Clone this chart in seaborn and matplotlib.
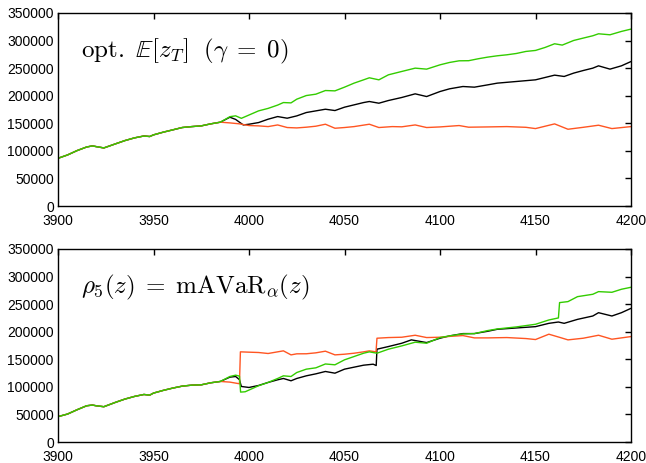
import numpy as np
import pandas as pd
import matplotlib
matplotlib.use("Agg")
import matplotlib.pyplot as plt
import seaborn as sns

sns.set_style("white")
plt.rcParams['font.family'] = ['Liberation Sans', 'DejaVu Sans']
plt.rcParams['mathtext.fontset'] = 'cm'

# ---------------- data: top panel ----------------
top_common_x = [3900, 3905, 3910, 3915, 3918, 3920, 3924, 3930, 3935, 3940, 3945, 3948,
                3950, 3955, 3960, 3965, 3970, 3975, 3980, 3985]
top_common_y = [86500, 92600, 100500, 107000, 109000, 107700, 105300, 112600, 118600, 123500,
                127000, 126000, 129000, 133800, 138000, 142300, 144000, 145300, 149000, 152000]

top_green_x = [3990, 3993, 3996, 4000, 4005, 4010, 4015, 4018, 4022, 4025, 4030, 4035, 4040,
               4045, 4050, 4055, 4060, 4063, 4068, 4073, 4080, 4087, 4093, 4100, 4105, 4110,
               4115, 4120, 4125, 4130, 4135, 4140, 4145, 4150, 4155, 4160, 4164, 4170, 4175,
               4180, 4183, 4189, 4195, 4200]
top_green_y = [162000, 163500, 159000, 165000, 172500, 177000, 183000, 187600, 187000, 193700,
               200300, 202800, 209400, 208800, 215500, 222800, 228800, 232500, 228800, 237900,
               244000, 250000, 248200, 256000, 260300, 263300, 263500, 267000, 270000, 272400,
               274200, 276600, 280300, 282100, 287500, 294200, 291800, 300200, 304500, 308700,
               312300, 310500, 316600, 320800]

top_black_x = [3990, 3993, 3997, 4000, 4005, 4010, 4015, 4020, 4025, 4030, 4035, 4040, 4045,
               4050, 4055, 4060, 4063, 4068, 4073, 4080, 4087, 4093, 4100, 4105, 4112, 4118,
               4125, 4130, 4140, 4150, 4160, 4165, 4170, 4175, 4180, 4183, 4189, 4195, 4200]
top_black_y = [161000, 157000, 147000, 148300, 151300, 157400, 162200, 159200, 163400, 169500,
               172500, 175500, 173100, 179200, 183400, 187600, 189500, 186400, 191300, 196800,
               203400, 198500, 207600, 212500, 216700, 215500, 219700, 222800, 225800, 228800,
               237300, 234900, 241000, 245700, 250000, 254200, 248200, 254200, 262000]

top_orange_x = [3990, 3995, 4000, 4005, 4010, 4015, 4020, 4025, 4030, 4035, 4040, 4045, 4050,
                4055, 4063, 4068, 4075, 4080, 4087, 4093, 4100, 4110, 4115, 4125, 4135, 4145,
                4150, 4160, 4167, 4175, 4183, 4190, 4200]
top_orange_y = [150700, 149000, 145900, 145300, 144000, 147000, 142300, 141600, 142900, 144700,
                148300, 141000, 142300, 144000, 148300, 142300, 144000, 143600, 147000, 142300,
                143400, 145900, 142900, 143400, 144000, 142700, 140400, 148900, 139200, 142700,
                146500, 140400, 144000]

# ---------------- data: bottom panel ----------------
bot_common_x = [3900, 3905, 3910, 3915, 3918, 3920, 3924, 3930, 3935, 3940, 3945, 3948,
                3950, 3955, 3960, 3965, 3970, 3975, 3980, 3985]
bot_common_y = [46000, 50700, 58500, 65700, 67000, 65700, 64000, 71800, 77800, 82600, 86200,
                85000, 88700, 93500, 97700, 101300, 103100, 103700, 107400, 109800]

bot_green_x = [3990, 3993, 3995, 3995.6, 3998, 4005, 4010, 4015, 4018, 4022, 4025, 4030, 4035,
               4040, 4045, 4050, 4055, 4060, 4063, 4067, 4073, 4080, 4087, 4093, 4100, 4105,
               4112, 4118, 4125, 4130, 4140, 4150, 4157, 4162, 4162.6, 4167, 4172, 4180, 4183,
               4190, 4195, 4200]
bot_green_y = [118800, 121200, 119500, 90500, 91100, 102000, 108000, 115200, 120000, 118800,
               126000, 132100, 134500, 141500, 140000, 149000, 155000, 161000, 163500, 161000,
               168300, 174300, 181000, 179100, 189400, 192400, 196000, 196600, 202100, 205000,
               208700, 213500, 221300, 225000, 252800, 254600, 263600, 267900, 272700, 271500,
               277000, 280600]

bot_black_x = [3990, 3993, 3995, 3996, 4000, 4005, 4010, 4015, 4018, 4022, 4025, 4030, 4035,
               4040, 4045, 4050, 4055, 4060, 4065, 4066.6, 4067, 4073, 4080, 4085, 4093, 4100,
               4105, 4112, 4118, 4125, 4130, 4140, 4150, 4157, 4162, 4165, 4172, 4180, 4183,
               4190, 4195, 4200]
bot_black_y = [117600, 118800, 113000, 100700, 98900, 102500, 108000, 112800, 115200, 111000,
               115200, 120000, 123600, 127900, 124800, 132100, 135700, 139300, 141100, 138700,
               168300, 173100, 179100, 185200, 180300, 188200, 192400, 196600, 196600, 200800,
               204400, 206800, 209200, 215200, 217600, 215200, 222400, 228500, 234500, 228500,
               234500, 242400]

bot_orange_x = [3990, 3995, 3995.5, 4000, 4005, 4010, 4015, 4018, 4022, 4025, 4030, 4035, 4040,
                4045, 4050, 4055, 4060, 4063, 4066.5, 4067, 4073, 4080, 4087, 4093, 4100, 4105,
                4112, 4118, 4125, 4135, 4145, 4150, 4157, 4163, 4167, 4175, 4183, 4190, 4200]
bot_orange_y = [108600, 105600, 163500, 162900, 162300, 160500, 163500, 165300, 158000, 159900,
                160000, 161700, 164700, 158000, 159200, 161000, 163500, 165300, 163500, 188200,
                189400, 190000, 193600, 189400, 190000, 191500, 193000, 188800, 188800, 189400,
                187600, 185800, 195500, 189400, 185200, 188200, 193600, 186400, 191200]

x_ticks = [3900, 3950, 4000, 4050, 4100, 4150, 4200]
y_ticks = [0, 50000, 100000, 150000, 200000, 250000, 300000, 350000]

series_colors = {"black": "#000000", "orange": "#ff5522", "green": "#33cc00"}
series_order = ["black", "orange", "green"]

top_label = r"$\mathrm{opt.}\ \mathbb{E}[z_T]\ \ (\gamma\;=\;0)$"
bot_label = r"$\rho_5(z)\;=\;\mathrm{mAVaR}_\alpha(z)$"


def build(common_x, common_y, tails):
    rows = []
    for name, (tx, ty) in tails.items():
        xs = list(common_x) + list(tx)
        ys = list(common_y) + list(ty)
        for i, (a, b) in enumerate(zip(xs, ys)):
            rows.append({"t": a, "v": b, "series": name, "i": i})
    return pd.DataFrame(rows)


top_df = build(top_common_x, top_common_y, {
    "black": (top_black_x, top_black_y),
    "orange": (top_orange_x, top_orange_y),
    "green": (top_green_x, top_green_y),
})
bot_df = build(bot_common_x, bot_common_y, {
    "black": (bot_black_x, bot_black_y),
    "orange": (bot_orange_x, bot_orange_y),
    "green": (bot_green_x, bot_green_y),
})

W, H = 646, 463
fig = plt.figure(figsize=(W / 100, H / 100), dpi=100)
ax1 = fig.add_axes([58 / W, 1 - 206 / H, (631 - 58) / W, (206 - 13) / H])
ax2 = fig.add_axes([58 / W, 1 - 442 / H, (631 - 58) / W, (442 - 249) / H])

for ax, df, label in [(ax1, top_df, top_label), (ax2, bot_df, bot_label)]:
    for name in series_order:
        sub = df[df["series"] == name]
        sns.lineplot(data=sub, x="t", y="v", ax=ax, color=series_colors[name],
                     lw=1.0, estimator=None, sort=False, legend=False)
    ax.set_xlim(3900, 4200)
    ax.set_ylim(0, 350000)
    ax.set_xticks(x_ticks)
    ax.set_yticks(y_ticks)
    ax.set_xticklabels([str(v) for v in x_ticks])
    ax.set_yticklabels([str(v) for v in y_ticks])
    ax.set_xlabel("")
    ax.set_ylabel("")
    ax.tick_params(direction="in", top=True, right=True, length=4, width=1,
                   labelsize=10, colors="black")
    ax.tick_params(axis="x", pad=5.5)
    ax.tick_params(axis="y", pad=3)
    for s in ax.spines.values():
        s.set_visible(True)
        s.set_color("black")
        s.set_linewidth(1.0)
    ax.text(0.04, 0.80, label, transform=ax.transAxes, fontsize=18,
            va="center", ha="left", color="black")

fig.savefig("out.png", dpi=100)
